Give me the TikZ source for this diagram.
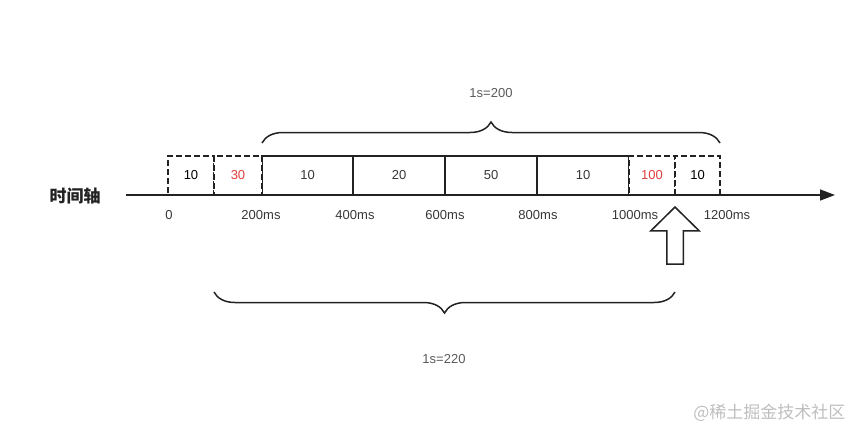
\documentclass[tikz,border=0pt]{standalone}
\usepackage{fontspec}
\setmainfont{Liberation Sans}
\newfontfamily\cjk{Noto Sans CJK SC}
\usepackage{tikz}
\usetikzlibrary{positioning, arrows.meta, shapes.arrows, decorations.pathreplacing}
\definecolor{LineColor}{RGB}{34,34,34}
\definecolor{TextColor}{RGB}{55,55,55}
\definecolor{SpanColor}{RGB}{90,90,90}
\definecolor{HotColor}{RGB}{224,62,62}
\definecolor{MarkColor}{RGB}{190,190,190}

\begin{document}
\begin{tikzpicture}[x=1pt, y=-1pt,
    slot/.style={draw=LineColor, line width=1.5pt, minimum height=39pt, inner sep=0pt, outer sep=0pt, text=TextColor, font=\fontsize{13}{15}\selectfont},
    dslot/.style={slot, dash pattern=on 6pt off 3pt, fill=white, text=black},
    tick/.style={text=TextColor, font=\fontsize{13}{15}\selectfont},
    curly/.style={decorate, decoration={brace, amplitude=21pt}, line width=1.5pt, draw=LineColor}]
  \useasboundingbox (0,0) rectangle (855,432);
  % window slots
  \node[slot, minimum width=91pt] (b3) at (307.5,175.5) {10};
  \node[slot, minimum width=92pt] (b4) at (399,175.5) {20};
  \node[slot, minimum width=92pt] (b5) at (491,175.5) {50};
  \node[slot, minimum width=92pt] (b6) at (583,175.5) {10};
  \node[dslot, minimum width=46pt] (b1) at (191,175.5) {10};
  \node[dslot, minimum width=48pt, text=HotColor] (b2) at (238,175.5) {30};
  \node[dslot, minimum width=46pt, text=HotColor] (b7) at (652,175.5) {100};
  \node[dslot, minimum width=45pt] (b8) at (697.5,175.5) {10};
  % time axis
  \coordinate (start) at (126,195);
  \coordinate (end) at (835,195);
  \draw[-{Triangle[length=15pt,width=11pt]}, line width=1.5pt, LineColor] (start) -- (end);
  \node[font=\cjk\bfseries\fontsize{17}{19}\selectfont, text=LineColor] (axisname) at (75,196) {时间轴};
  \node[tick] (t0) at (169,215) {0};
  \node[tick] (t200) at (261,215) {200ms};
  \node[tick] (t400) at (355,215) {400ms};
  \node[tick] (t600) at (445,215) {600ms};
  \node[tick] (t800) at (538,215) {800ms};
  \node[tick] (t1000) at (635,215) {1000ms};
  \node[tick] (t1200) at (727,215) {1200ms};
  % braces
  \draw[curly] ([yshift=13pt]b3.north west) -- ([yshift=13pt]b8.north east);
  \node[tick, text=SpanColor] (span200) at (491,93) {1s=200};
  \draw[curly] ([yshift=-97pt]b8.south west) -- ([yshift=-97pt]b2.south west);
  \node[tick, text=SpanColor] (span220) at (444,359) {1s=220};
  % pointer
  \node[single arrow, draw=LineColor, fill=white, line width=1.5pt, single arrow head extend=16pt, single arrow tip angle=91, minimum width=47pt, minimum height=57pt, inner sep=7.5pt, rotate=90, anchor=tip] (pointer) at (675,206) {};
  \node[anchor=east, text=MarkColor, font=\cjk\fontsize{17}{19}\selectfont] (mark) at (849,413) {@稀土掘金技术社区};
\end{tikzpicture}
\end{document}
